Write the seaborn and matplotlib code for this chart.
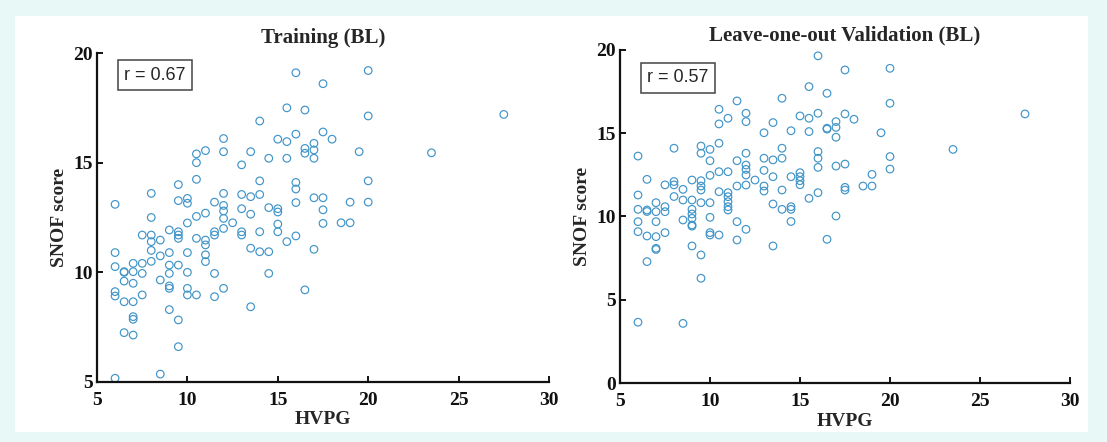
import matplotlib
matplotlib.use("Agg")
import matplotlib.pyplot as plt
from matplotlib.patches import Rectangle
import seaborn as sns
import pandas as pd

# ---------------- data ----------------
train_hvpg = [6, 6, 6, 6, 6, 6,
              6.5, 6.5, 6.5, 6.5, 6.5,
              7, 7, 7, 7, 7, 7, 7,
              7.5, 7.5, 7.5, 7.5,
              8, 8, 8, 8, 8, 8,
              8.5, 8.5, 8.5, 8.5,
              9, 9, 9, 9, 9, 9, 9,
              9.5, 9.5, 9.5, 9.5, 9.5, 9.5, 9.5, 9.5,
              10, 10, 10, 10, 10, 10, 10,
              10.5, 10.5, 10.5, 10.5, 10.5, 10.5,
              11, 11, 11, 11, 11, 11,
              11.5, 11.5, 11.5, 11.5, 11.5,
              12, 12, 12, 12, 12, 12, 12, 12,
              12.5,
              13, 13, 13, 13, 13,
              13.5, 13.5, 13.5, 13.5, 13.5,
              14, 14, 14, 14, 14,
              14.5, 14.5, 14.5, 14.5,
              15, 15, 15, 15, 15,
              15.5, 15.5, 15.5, 15.5,
              16, 16, 16, 16, 16, 16,
              16.5, 16.5, 16.5, 16.5,
              17, 17, 17, 17, 17,
              17.5, 17.5, 17.5, 17.5, 17.5,
              18, 18.5, 19, 19, 19.5,
              20, 20, 20, 20,
              23.5, 27.5]
train_snof = [13.1, 10.9, 10.26, 9.12, 8.92, 5.17,
              10.03, 10.0, 9.6, 8.66, 7.25,
              10.41, 10.03, 9.5, 8.66, 7.98, 7.86, 7.14,
              11.7, 10.41, 9.95, 8.97,
              13.6, 12.5, 11.7, 11.4, 11.0, 10.5,
              11.47, 10.75, 9.65, 5.36,
              11.93, 10.9, 10.33, 9.95, 9.38, 9.27, 8.3,
              14.0, 13.27, 11.85, 11.7, 11.55, 10.33, 7.83, 6.61,
              13.37, 13.15, 12.25, 10.9, 10.0, 9.27, 8.97,
              15.4, 15.0, 14.24, 12.55, 11.55, 8.97,
              15.55, 12.7, 11.47, 11.25, 10.8, 10.49,
              13.2, 11.85, 11.7, 9.95, 8.89,
              16.1, 15.5, 13.6, 13.05, 12.8, 12.46, 12.0, 9.27,
              12.26,
              14.9, 13.55, 12.9, 11.85, 11.7,
              15.5, 13.45, 12.65, 11.1, 8.43,
              16.9, 14.17, 13.55, 11.85, 10.94,
              15.2, 12.95, 10.94, 9.95,
              16.07, 12.9, 12.75, 12.2, 11.85,
              17.5, 15.96, 15.2, 11.4,
              19.1, 16.3, 14.1, 13.8, 13.18, 11.66,
              17.4, 15.65, 15.43, 9.2,
              15.88, 15.58, 15.2, 13.4, 11.05,
              18.6, 16.4, 13.4, 12.85, 12.23,
              16.07, 12.26, 13.2, 12.26, 15.5,
              19.2, 17.13, 14.17, 13.2,
              15.45, 17.2]

val_hvpg = [6, 6, 6, 6, 6, 6,
            6.5, 6.5, 6.5, 6.5, 6.5,
            7, 7, 7, 7, 7, 7,
            7.5, 7.5, 7.5, 7.5,
            8, 8, 8, 8,
            8.5, 8.5, 8.5, 8.5,
            9, 9, 9, 9, 9, 9, 9, 9,
            9.5, 9.5, 9.5, 9.5, 9.5, 9.5, 9.5, 9.5,
            10, 10, 10, 10, 10, 10, 10,
            10.5, 10.5, 10.5, 10.5, 10.5, 10.5,
            11, 11, 11, 11, 11, 11, 11,
            11.5, 11.5, 11.5, 11.5, 11.5,
            12, 12, 12, 12, 12, 12, 12, 12,
            12.5,
            13, 13, 13, 13, 13,
            13.5, 13.5, 13.5, 13.5, 13.5,
            14, 14, 14, 14, 14,
            14.5, 14.5, 14.5, 14.5, 14.5,
            15, 15, 15, 15, 15,
            15.5, 15.5, 15.5, 15.5,
            16, 16, 16, 16, 16, 16,
            16.5, 16.5, 16.5, 16.5,
            17, 17, 17, 17, 17,
            17.5, 17.5, 17.5, 17.5, 17.5,
            18, 18.5, 19, 19, 19.5,
            20, 20, 20, 20,
            23.5, 27.5]
val_snof = [13.63, 11.29, 10.43, 9.69, 9.09, 3.65,
            12.23, 10.39, 10.3, 8.83, 7.29,
            10.83, 10.29, 9.69, 8.79, 8.09, 8.02,
            11.9, 10.59, 10.29, 9.03,
            14.1, 12.1, 11.9, 11.2,
            11.63, 10.99, 9.79, 3.58,
            12.19, 10.99, 10.43, 10.15, 9.89, 9.49, 9.42, 8.23,
            14.23, 13.8, 12.15, 11.83, 11.59, 10.83, 7.69, 6.29,
            14.03, 13.35, 12.47, 10.83, 9.95, 9.03, 8.89,
            16.44, 15.56, 14.4, 12.69, 11.49, 8.89,
            15.9, 12.69, 11.43, 11.19, 10.89, 10.59, 10.39,
            16.94, 13.35, 11.83, 9.69, 8.59,
            16.2, 15.7, 13.8, 13.09, 12.83, 12.49, 11.89, 9.23,
            12.19,
            15.03, 13.5, 12.77, 11.83, 11.53,
            15.64, 13.4, 12.39, 10.75, 8.23,
            17.1, 14.1, 13.5, 11.59, 10.43,
            15.15, 12.39, 10.59, 10.43, 9.7,
            16.04, 12.63, 12.39, 12.15, 11.91,
            17.8, 15.9, 15.1, 11.09,
            19.65, 16.2, 13.9, 13.5, 12.95, 11.43,
            17.4, 15.3, 15.25, 8.63,
            15.7, 15.35, 14.76, 13.03, 10.03,
            18.8, 16.16, 13.15, 11.75, 11.59,
            15.84, 11.83, 12.53, 11.83, 15.03,
            18.9, 16.8, 13.6, 12.85,
            14.03, 16.16]

titles = ["Training (BL)", "Leave-one-out Validation (BL)"]
r_labels = ["r = 0.67", "r = 0.57"]
x_ticks = [5, 10, 15, 20, 25, 30]
y_ticks_train = [5, 10, 15, 20]
y_ticks_val = [0, 5, 10, 15, 20]

# ---------------- style ----------------
sns.set_style("ticks")
plt.rcParams["font.family"] = ["Liberation Serif", "DejaVu Serif"]

marker_color = "#4094c8"
bg_color = "#e8f8f6"

fig = plt.figure(figsize=(11.07, 4.42), dpi=100, facecolor=bg_color)
W, H = 1107.0, 442.0
fig.patches.append(Rectangle((15 / W, 1 - 432 / H), (1088 - 15) / W, (432 - 16) / H,
                             transform=fig.transFigure, facecolor="white",
                             edgecolor="none", zorder=-10))

ax1 = fig.add_axes([97 / W, 1 - 382 / H, (549 - 97) / W, (382 - 53) / H])
ax2 = fig.add_axes([620 / W, 1 - 383 / H, (1070 - 620) / W, (383 - 50) / H])

df_train = pd.DataFrame({"HVPG": train_hvpg, "SNOF": train_snof})
df_val = pd.DataFrame({"HVPG": val_hvpg, "SNOF": val_snof})

panels = [(ax1, df_train, y_ticks_train, (5, 20), (0.128, 0.933)),
          (ax2, df_val, y_ticks_val, (0, 20), (0.128, 0.916))]

for i, (ax, df, yt, ylim, rpos) in enumerate(panels):
    ax.set_facecolor("white")
    sns.scatterplot(data=df, x="HVPG", y="SNOF", ax=ax, marker="o", s=30,
                    facecolor="none", edgecolor=marker_color, linewidth=0.85)
    ax.set_xlim(5, 30)
    ax.set_ylim(*ylim)
    ax.set_xticks(x_ticks)
    ax.set_yticks(yt)
    for s in ["top", "right"]:
        ax.spines[s].set_visible(False)
    for s in ["left", "bottom"]:
        ax.spines[s].set_linewidth(1.6)
        ax.spines[s].set_color("#111111")
    ax.tick_params(direction="in", length=4, width=1.4, colors="#111111",
                   labelsize=14)
    ax.tick_params(axis="x", pad=7)
    ax.tick_params(axis="y", pad=3)
    for lab in ax.get_xticklabels() + ax.get_yticklabels():
        lab.set_fontweight("bold")
    ax.set_xlabel("HVPG", fontsize=14, fontweight="bold", labelpad=2)
    ax.set_ylabel("SNOF score", fontsize=14, fontweight="bold", labelpad=4)
    ax.set_title(titles[i], fontsize=15, fontweight="bold", pad=7)
    ax.text(rpos[0], rpos[1], r_labels[i], transform=ax.transAxes,
            ha="center", va="center", fontsize=13,
            family=["Liberation Sans", "DejaVu Sans"], fontweight="normal",
            bbox=dict(boxstyle="square,pad=0.35", facecolor="white",
                      edgecolor="#444444", linewidth=1.1))

fig.savefig("out.png", dpi=100, facecolor=bg_color)
